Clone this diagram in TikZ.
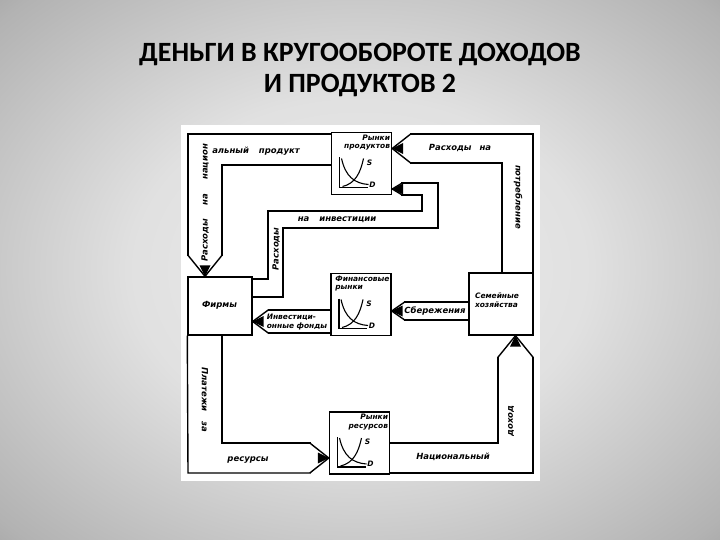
\documentclass[tikz,border=0pt]{standalone}
\usepackage{fontspec}
\newfontfamily\titlefont{Carlito}
\newfontfamily\handfont{DejaVu Sans}
\usetikzlibrary{positioning}

\pgfdeclareradialshading{slidebg}{\pgfpoint{0bp}{0bp}}{color(0bp)=(black!7); color(16bp)=(black!12); color(34bp)=(black!30); color(50bp)=(black!56); color(71bp)=(black!78)}

\tikzset{
  box/.style={draw, line width=1.4pt, inner sep=0pt},
  band/.style={line width=1.4pt},
  hand/.style={font=\handfont\bfseries\itshape\fontsize{8.5}{10}\selectfont, inner sep=0pt},
  small/.style={font=\handfont\bfseries\itshape\fontsize{7.5}{8.5}\selectfont, inner sep=0pt},
  heading/.style={font=\titlefont\bfseries\fontsize{28}{31}\selectfont, anchor=base},
  pics/pencil/.style={code={
    \draw[band] (-#1,-#1-4) -- (0,0) -- (#1,-#1-4);
    \fill (-5.5,-11) -- (0,0) -- (5.5,-11) -- cycle;
  }},
  pics/sdcross/.style={code={
    \draw[line width=1.1pt] (-22,-6) -- (-22,24) -- (6,24);
    \draw[line width=1.1pt] (-20,-5) .. controls (-16,13) and (-7,20) .. (7,21);
    \draw[line width=1.1pt] (-19,23) .. controls (-6,20) and (-1,9) .. (2,-5);
    \node[small] at (8,-1) {S};
    \node[small] at (11,21) {D};
  }},
}

\begin{document}
\begin{tikzpicture}[x=1bp, y=-1bp]
  \useasboundingbox (0,0) rectangle (720,540);
  \shade[shading=slidebg] (0,0) rectangle (720,540);
  \fill[white] (181,125) rectangle (540,481);

  % title
  \node[heading] (title1) at (360,62) {ДЕНЬГИ В КРУГООБОРОТЕ ДОХОДОВ};
  \node[heading] (title2) at (360,93) {И ПРОДУКТОВ 2};

  % sectors
  \node[box, minimum width=64bp, minimum height=58bp] (firms) at (220,306) {};
  \node[hand] (firmstext) at (219.5,305) {Фирмы};
  \node[box, minimum width=64bp, minimum height=62bp] (hh) at (501,304) {};
  \node[small, align=left] (hhtext) at (497,300) {Семейные\\хозяйства};

  % markets with S/D cross
  \foreach \nm/\cx/\cy/\al/\tx in {prod/361.5/163.5/right/{Рынки\\продуктов},
      fin/361/304.5/left/{Финансовые\\рынки}, res/359.5/443/right/{Рынки\\ресурсов}}{
    \node[box, minimum width=60bp, minimum height=62bp] (\nm) at (\cx,\cy) {};
    \node[small, align=\al, anchor=north east] (\nm-t) at ([xshift=-2bp,yshift=-3bp]\nm.north east) {\tx};
    \pic at (\nm) {sdcross};
  }

  % spending on national product
  \draw[band] (prod.west |- 0,134) -- (188,134) -- (188,256);
  \draw[band] (prod.west |- 0,165) -- (222,165) -- (222,256);
  \pic at (firms.north -| 205,0) {pencil=17};
  \node[hand, rotate=90] (lblA1) at (205,203) {Расходы\hspace{14bp}на\hspace{14bp}национ};
  \node[hand] (lblA2) at (256,151) {альный\hspace{10bp}продукт};

  % spending on consumption
  \draw[band] (hh.north -| 533,0) -- (533,134) -- (409.5,134);
  \draw[band] (hh.north -| 502,0) -- (502,163) -- (409.5,163);
  \pic[rotate=-90] at (prod.east |- 0,148.5) {pencil=14.5};
  \node[hand] (lblB1) at (460,148) {Расходы\hspace{8bp}на};
  \node[hand, rotate=-90] (lblB2) at (518,197) {потребление};

  % spending on investment
  \draw[band] (firms.east |- 0,279) -- (268,279) -- (268,211) -- (422,211) -- (422,195) -- (401,195);
  \draw[band] (firms.east |- 0,297) -- (283,297) -- (283,228) -- (438,228) -- (438,183) -- (401,183);
  \pic[rotate=-90] at (prod.east |- 0,189) {pencil=6};
  \node[hand, rotate=90] (lblC1) at (276,249) {Расходы};
  \node[hand] (lblC2) at (337,220) {на\hspace{10bp}инвестиции};

  % investment funds
  \draw[band] (fin.west |- 0,310) -- (267.5,310);
  \draw[band] (fin.west |- 0,333) -- (267.5,333);
  \pic[rotate=-90] at (firms.east |- 0,321.5) {pencil=11.5};
  \node[small, align=left] (lblD) at (297,322) {Инвестици-\\онные фонды};

  % savings
  \draw[band] (hh.west |- 0,302) -- (404,302);
  \draw[band] (hh.west |- 0,320) -- (404,320);
  \pic[rotate=-90] at (fin.east |- 0,311) {pencil=9};
  \node[hand] (lblE) at (435,311) {Сбережения};

  % payments for resources
  \draw[band] (firms.south west) -- (188,473) -- (310.5,473);
  \draw[band] (firms.south -| 222,0) -- (222,443) -- (310.5,443);
  \pic[rotate=90] at (res.west |- 0,458) {pencil=15};
  \node[hand, rotate=-90] (lblF1) at (205,400) {Платежи\hspace{10bp}за};
  \node[hand] (lblF2) at (248,460) {ресурсы};

  % national income
  \draw[band] (res.east |- 0,473) -- (533,473) -- (533,356.5);
  \draw[band] (res.east |- 0,443) -- (498,443) -- (498,356.5);
  \pic[rotate=180] at (hh.south -| 515.5,0) {pencil=17.5};
  \node[hand] (lblG1) at (453,457) {Национальный};
  \node[hand, rotate=90] (lblG2) at (511,421) {доход};
\end{tikzpicture}
\end{document}
